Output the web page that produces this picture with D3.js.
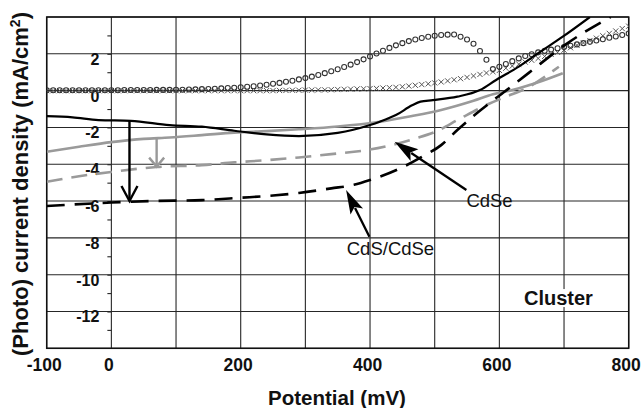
<!DOCTYPE html>
<html lang="en">
<head>
<meta charset="UTF-8">
<title>Photocurrent density vs potential</title>
<style>
  body { margin: 0; background: #fff; }
  svg { display: block; font-family: "Liberation Sans", Arial, Helvetica, sans-serif; }
</style>
</head>
<body>
<script src="https://d3js.org/d3.v7.min.js"></script>
<script>
// ---- data (potential in mV, current density in mA/cm2) ----
var xTickLabels = [-100, 0, 200, 400, 600, 800];
var yTickLabels = [2, 0, -2, -4, -6, -8, -10, -12];

// marker series sampled every 10 mV from -100 to 800
var markerPotential = d3.range(-100, 801, 10);
var circleSeries = [
  0.02, 0.02, 0.02, 0.02, 0.02, 0.02, 0.02, 0.02, 0.02, 0.02,
  0.02, 0.02, 0.03, 0.03, 0.03, 0.03, 0.03, 0.04, 0.04, 0.04,
  0.05, 0.05, 0.06, 0.07, 0.08, 0.09, 0.10, 0.12, 0.14, 0.16,
  0.18, 0.21, 0.24, 0.28, 0.32, 0.37, 0.42, 0.48, 0.54, 0.61,
  0.68, 0.76, 0.85, 0.95, 1.05, 1.16, 1.28, 1.41, 1.55, 1.70,
  1.86, 2.02, 2.17, 2.32, 2.46, 2.58, 2.69, 2.78, 2.86, 2.93,
  2.98, 3.02, 3.04, 3.05, 2.93, 2.78, 2.55, 2.15, 1.68, 1.17,
  1.30, 1.45, 1.60, 1.75, 1.88, 1.98, 2.08, 2.16, 2.23, 2.30,
  2.37, 2.44, 2.51, 2.58, 2.65, 2.72, 2.79, 2.87, 2.94, 3.02,
  3.10
];
var crossSeries = [
  0.00, 0.00, 0.00, 0.00, 0.00, 0.00, 0.00, 0.00, 0.00, 0.00,
  0.00, 0.00, 0.00, 0.00, 0.00, 0.00, 0.00, 0.00, 0.00, 0.00,
  0.00, 0.00, 0.00, 0.00, 0.00, 0.00, 0.00, 0.00, 0.00, 0.00,
  0.00, 0.00, 0.00, 0.00, 0.00, 0.00, 0.01, 0.01, 0.02, 0.02,
  0.03, 0.03, 0.04, 0.04, 0.05, 0.06, 0.07, 0.08, 0.09, 0.10,
  0.11, 0.12, 0.14, 0.16, 0.18, 0.21, 0.25, 0.29, 0.33, 0.37,
  0.42, 0.47, 0.53, 0.59, 0.65, 0.72, 0.80, 0.88, 0.96, 1.03,
  1.10, 1.22, 1.34, 1.44, 1.55, 1.65, 1.75, 1.86, 1.97, 2.08,
  2.20, 2.33, 2.46, 2.59, 2.72, 2.85, 2.98, 3.11, 3.24, 3.37,
  3.50
];

// line series
var blackSolidV = [-100, -60, -20, 30, 90, 140, 190, 240, 290, 350, 400, 415, 440, 465, 478, 497, 535, 570, 595, 630, 660, 698, 740];
var blackSolidJ = [-1.39, -1.45, -1.6, -1.64, -1.87, -1.96, -2.18, -2.38, -2.47, -2.3, -1.87, -1.69, -1.33, -0.8, -0.6, -0.52, -0.33, 0.03, 0.58, 1.3, 2.03, 2.93, 4.0];

var graySolidV = [-100, -50, 0, 50, 90, 140, 190, 240, 290, 350, 415, 465, 510, 560, 590, 620, 660, 698];
var graySolidJ = [-3.32, -3.05, -2.8, -2.62, -2.55, -2.42, -2.28, -2.2, -2.1, -1.95, -1.69, -1.38, -1.05, -0.55, -0.2, 0.03, 0.45, 0.94];

var grayDashV = [-100, -50, 0, 70, 140, 190, 240, 290, 340, 395, 440, 470, 500, 540, 585, 610, 640, 692];
var grayDashJ = [-4.95, -4.65, -4.42, -4.15, -4.05, -3.9, -3.78, -3.63, -3.45, -3.23, -2.9, -2.6, -2.25, -1.5, -0.7, -0.33, 0.1, 1.3];

var blackDashV = [-100, 0, 60, 140, 200, 250, 290, 340, 375, 400, 445, 480, 510, 535, 565, 615, 645, 705, 772];
var blackDashJ = [-6.27, -6.08, -6.0, -5.95, -5.82, -5.7, -5.56, -5.31, -5.12, -4.86, -4.25, -3.6, -2.96, -2.14, -1.23, 0.13, 0.95, 2.57, 4.0];

// ---- chart ----
var width = 644, height = 408;
var margin = {top: 17, right: 15.3, bottom: 59.7, left: 46.7};

var svg = d3.select("body").append("svg")
    .attr("width", width)
    .attr("height", height);

var x = d3.scaleLinear().domain([-100, 800]).range([margin.left, width - margin.right]);
var y = d3.scaleLinear().domain([-14, 4]).range([height - margin.bottom, margin.top]);

svg.append("defs").append("clipPath").attr("id", "plot")
  .append("rect")
    .attr("x", x(-100)).attr("y", y(4))
    .attr("width", x(800) - x(-100)).attr("height", y(-14) - y(4));

// grid
var grid = svg.append("g").attr("stroke", "#262626").attr("stroke-width", 1.1);
grid.selectAll(".v").data(d3.range(-100, 801, 100)).join("line")
    .attr("x1", d => x(d)).attr("x2", d => x(d))
    .attr("y1", y(4)).attr("y2", y(-14));
grid.selectAll(".h").data(d3.range(-14, 5, 2)).join("line")
    .attr("x1", x(-100)).attr("x2", x(800))
    .attr("y1", d => y(d)).attr("y2", d => y(d));
svg.append("rect")
    .attr("x", x(-100)).attr("y", y(4))
    .attr("width", x(800) - x(-100)).attr("height", y(-14) - y(4))
    .attr("fill", "none").attr("stroke", "#111").attr("stroke-width", 1.5);

// y axis sits on 0 mV
var yAxis = d3.axisLeft(y)
    .tickValues(d3.range(-13, 4, 1))
    .tickSize(4)
    .tickPadding(8)
    .tickFormat(d => yTickLabels.indexOf(d) >= 0 ? d : "");
var gy = svg.append("g")
    .attr("transform", "translate(" + x(0) + ",0)")
    .call(yAxis);
gy.select(".domain").remove();
gy.selectAll(".tick line").attr("stroke", "#262626").attr("stroke-width", 1.1);
gy.selectAll(".tick text")
    .attr("dy", 0).attr("y", 10.5)
    .style("font-size", "16px").style("font-weight", "bold").attr("fill", "#111");

// x axis labels under the frame
var xAxis = d3.axisBottom(x).tickValues(xTickLabels).tickSize(0).tickFormat(d => d);
var gx = svg.append("g")
    .attr("transform", "translate(0," + y(-14) + ")")
    .call(xAxis);
gx.select(".domain").remove();
gx.selectAll(".tick text")
    .attr("dy", 0).attr("y", 23).attr("x", -3)
    .style("font-size", "17.5px").style("font-weight", "bold").attr("fill", "#111");

// axis titles
svg.append("text")
    .attr("x", 337).attr("y", 405)
    .attr("text-anchor", "middle")
    .style("font-size", "20.5px").style("font-weight", "bold").attr("fill", "#111")
    .text("Potential (mV)");

var yt = svg.append("text")
    .attr("transform", "translate(28,184) rotate(-90)")
    .attr("text-anchor", "middle")
    .style("font-size", "22px").style("font-weight", "bold").attr("fill", "#111");
yt.append("tspan").text("(Photo) current density (mA/cm");
yt.append("tspan").attr("dy", -8).style("font-size", "14px").text("2");
yt.append("tspan").attr("dy", 8).text(")");

// series
var plot = svg.append("g").attr("clip-path", "url(#plot)");

plot.selectAll(".cross").data(markerPotential).join("path")
    .attr("transform", (d, i) => "translate(" + x(d) + "," + y(crossSeries[i]) + ")")
    .attr("d", "M-2.6,-2.6L2.6,2.6M-2.6,2.6L2.6,-2.6")
    .attr("stroke", "#555").attr("stroke-width", 1).attr("fill", "none");

plot.selectAll(".circ").data(markerPotential).join("circle")
    .attr("cx", d => x(d))
    .attr("cy", (d, i) => y(circleSeries[i]))
    .attr("r", 2.5)
    .attr("fill", "none").attr("stroke", "#333").attr("stroke-width", 1.1);

function drawLine(vs, js, color, w, dash) {
  var line = d3.line()
      .x(d => x(d[0]))
      .y(d => y(d[1]))
      .curve(d3.curveMonotoneX);
  plot.append("path")
      .datum(vs.map((v, i) => [v, js[i]]))
      .attr("d", line)
      .attr("fill", "none")
      .attr("stroke", color)
      .attr("stroke-width", w)
      .attr("stroke-dasharray", dash);
}
drawLine(graySolidV, graySolidJ, "#9a9a9a", 2.6, null);
drawLine(grayDashV, grayDashJ, "#9a9a9a", 2.6, "16,9");
drawLine(blackSolidV, blackSolidJ, "#000", 2.2, null);
drawLine(blackDashV, blackDashJ, "#000", 2.6, "18,10");

// vertical arrows (open heads)
function downArrow(v, from, to, color, hw, hl) {
  var px = x(v), y0 = y(from), y1 = y(to);
  var g = svg.append("g").attr("stroke", color).attr("stroke-width", 2.4).attr("fill", "none");
  g.append("line").attr("x1", px).attr("x2", px).attr("y1", y0).attr("y2", y1);
  g.append("path").attr("d", "M" + (px - hw) + "," + (y1 - hl) + "L" + px + "," + y1 + "L" + (px + hw) + "," + (y1 - hl));
}
downArrow(28, -1.64, -6.0, "#000", 8, 15);
downArrow(70, -2.57, -4.13, "#999", 7.5, 9);

// labelled arrows (filled heads)
function pointer(tail, tip) {
  var x0 = x(tail[0]), y0 = y(tail[1]), x1 = x(tip[0]), y1 = y(tip[1]);
  var dx = x1 - x0, dy = y1 - y0, len = Math.sqrt(dx * dx + dy * dy);
  var ux = dx / len, uy = dy / len, hl = 24, hw = 7;
  var bx = x1 - ux * hl, by = y1 - uy * hl;
  svg.append("line")
      .attr("x1", x0).attr("y1", y0).attr("x2", bx + ux * 4).attr("y2", by + uy * 4)
      .attr("stroke", "#000").attr("stroke-width", 2.3);
  svg.append("path")
      .attr("d", "M" + x1 + "," + y1 +
                 "L" + (bx - uy * hw) + "," + (by + ux * hw) +
                 "L" + (bx + ux * 5) + "," + (by + uy * 5) +
                 "L" + (bx + uy * hw) + "," + (by - ux * hw) + "Z")
      .attr("fill", "#000");
}
pointer([549, -5.40], [438, -2.78]);
pointer([399, -7.94], [363, -5.40]);

svg.append("text")
    .attr("x", x(549)).attr("y", y(-6.31))
    .style("font-size", "18.5px").attr("fill", "#111")
    .text("CdSe");
svg.append("text")
    .attr("x", x(364)).attr("y", y(-8.93))
    .style("font-size", "18.5px").attr("fill", "#111")
    .text("CdS/CdSe");

// "Cluster" tag on a white patch
var tag = svg.append("g");
var patch = tag.append("rect").attr("fill", "#fff");
var cl = tag.append("text")
    .attr("x", x(638)).attr("y", y(-11.65))
    .style("font-size", "20px").style("font-weight", "bold").attr("fill", "#111")
    .text("Cluster");
var bb = cl.node().getBBox();
patch.attr("x", bb.x - 3).attr("y", bb.y + 2)
    .attr("width", bb.width + 6).attr("height", bb.height - 4);
</script>
</body>
</html>
